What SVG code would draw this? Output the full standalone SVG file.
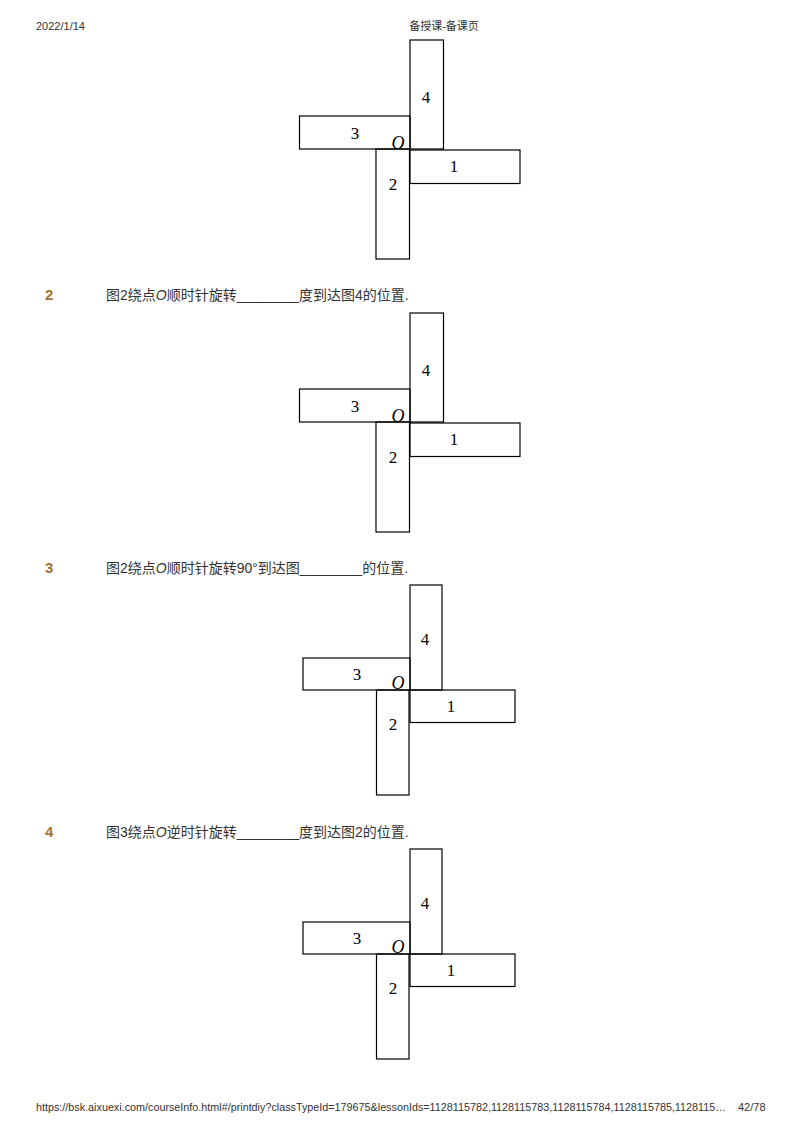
<svg xmlns="http://www.w3.org/2000/svg" width="800" height="1133" viewBox="0 0 800 1133">
<style>
.r{fill:none;stroke:#000;stroke-width:1.2}
.n{font-family:"Liberation Serif",serif;font-size:17px;text-anchor:middle}
.o{font-family:"Liberation Serif",serif;font-size:18px;font-style:italic;text-anchor:middle}
.h{font-family:"Liberation Sans","Noto Sans CJK SC",sans-serif;font-size:11px;fill:#333}
.q{font-family:"Liberation Sans","Noto Sans CJK SC",sans-serif;font-size:14px;fill:#333}
.qn{font-family:"Liberation Sans",sans-serif;font-size:15px;font-weight:bold;fill:#a5732d}
</style>
<rect width="800" height="1133" fill="#fff"/>
<text class="h" x="36" y="30">2022/1/14</text>
<text class="h" x="444" y="30" text-anchor="middle">备授课-备课页</text>
<text class="h" x="36" y="1111" textLength="690" lengthAdjust="spacingAndGlyphs">https://bsk.aixuexi.com/courseInfo.html#/printdiy?classTypeId=179675&amp;lessonIds=1128115782,1128115783,1128115784,1128115785,1128115…</text>
<text class="h" x="738" y="1111">42/78</text>
<defs>
<g id="figA">
<rect class="r" x="410" y="40" width="33.5" height="109"/>
<rect class="r" x="299.5" y="116" width="110.5" height="33"/>
<rect class="r" x="376" y="149" width="33.5" height="110"/>
<rect class="r" x="410" y="150" width="110" height="33.5"/>
<text class="n" x="426" y="103">4</text>
<text class="n" x="355" y="139">3</text>
<text class="o" x="398" y="149">O</text>
<text class="n" x="393" y="190">2</text>
<text class="n" x="454" y="172">1</text>
</g>
<g id="figB">
<rect class="r" x="410" y="585" width="32" height="105"/>
<rect class="r" x="303" y="658" width="107" height="32"/>
<rect class="r" x="376.5" y="690" width="32.5" height="105"/>
<rect class="r" x="410" y="690" width="105" height="32.5"/>
<text class="n" x="425" y="645">4</text>
<text class="n" x="357" y="680">3</text>
<text class="o" x="398" y="689">O</text>
<text class="n" x="393" y="730">2</text>
<text class="n" x="451" y="712">1</text>
</g>
</defs>
<g id="fig1"><use href="#figA"/></g>
<g id="q2">
<text class="qn" x="45" y="300">2</text>
<text class="q" x="106" y="300">图2绕点<tspan font-style="italic">O</tspan>顺时针旋转________度到达图4的位置.</text>
</g>
<g id="fig2"><use href="#figA" transform="translate(0,273)"/></g>
<g id="q3">
<text class="qn" x="45" y="573">3</text>
<text class="q" x="106" y="573">图2绕点<tspan font-style="italic">O</tspan>顺时针旋转90°到达图________的位置.</text>
</g>
<g id="fig3"><use href="#figB"/></g>
<g id="q4">
<text class="qn" x="45" y="837">4</text>
<text class="q" x="106" y="837">图3绕点<tspan font-style="italic">O</tspan>逆时针旋转________度到达图2的位置.</text>
</g>
<g id="fig4"><use href="#figB" transform="translate(0,264)"/></g>
<g id="connectors"/>
</svg>
